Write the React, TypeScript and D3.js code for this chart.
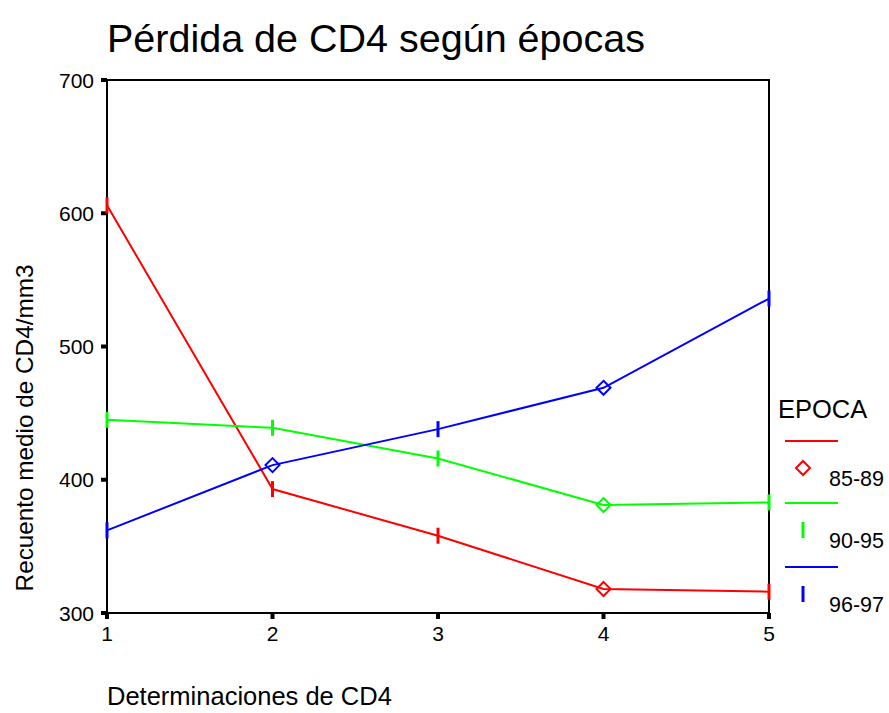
import React from "react";
import * as d3 from "d3";

const determinations = [1, 2, 3, 4, 5];
const epocas = ["85-89", "90-95", "96-97"];
const colors = ["#ff0000", "#00ff00", "#0000ff"];
const values8589 = [606, 393, 358, 318, 316];
const values9095 = [445, 439, 416, 381, 383];
const values9697 = [362, 411, 438, 469, 536];
const markers8589 = ["tick", "tick", "tick", "diamond", "tick"];
const markers9095 = ["tick", "tick", "tick", "diamond", "tick"];
const markers9697 = ["tick", "diamond", "tick", "diamond", "tick"];
const legendMarkers = ["diamond", "tick", "tick"];
const yTicks = [300, 400, 500, 600, 700];
const xTicks = [1, 2, 3, 4, 5];

const FONT = "'Liberation Sans', Arial, sans-serif";

function Marker({ type, x, y, color, size = 7, tickLen = 8 }: any) {
  if (type === "diamond") {
    const p = `M${x},${y - size}L${x + size},${y}L${x},${y + size}L${x - size},${y}Z`;
    return <path d={p} fill="none" stroke={color} strokeWidth={2} />;
  }
  return <line x1={x} x2={x} y1={y - tickLen} y2={y + tickLen} stroke={color} strokeWidth={3} />;
}

export default function App() {
  const x = d3.scaleLinear().domain([1, 5]).range([107, 769]);
  const y = d3.scaleLinear().domain([300, 700]).range([613, 80]);
  const series = [
    { name: epocas[0], values: values8589, markers: markers8589, color: colors[0] },
    { name: epocas[1], values: values9095, markers: markers9095, color: colors[1] },
    { name: epocas[2], values: values9697, markers: markers9697, color: colors[2] },
  ];
  const line = d3
    .line<number>()
    .x((_, i) => x(determinations[i]))
    .y((d) => y(d));

  const legendY = [441, 503, 567];

  return (
    <svg
      width={889}
      height={713}
      style={{ position: "absolute", left: 0, top: 0, background: "#fff" }}
      fontFamily={FONT}
    >
      <rect x={0} y={0} width={889} height={713} fill="#fff" />
      <text x={107} y={52} fontSize={39.5} fill="#000">
        Pérdida de CD4 según épocas
      </text>

      {/* frame */}
      <rect x={107} y={80} width={662} height={533} fill="none" stroke="#000" strokeWidth={2} />

      {/* y ticks */}
      {yTicks.map((t) => (
        <g key={"y" + t}>
          <line x1={101} x2={107} y1={y(t)} y2={y(t)} stroke="#000" strokeWidth={4} />
          <text x={94} y={y(t) + 7.5} fontSize={21} textAnchor="end" fill="#000">
            {t}
          </text>
        </g>
      ))}
      {/* x ticks */}
      {xTicks.map((t) => (
        <g key={"x" + t}>
          <line x1={x(t)} x2={x(t)} y1={613} y2={619} stroke="#000" strokeWidth={4} />
          <text x={x(t)} y={641} fontSize={21} textAnchor="middle" fill="#000">
            {t}
          </text>
        </g>
      ))}

      {/* series */}
      {series.map((s) => (
        <g key={s.name}>
          <path d={line(s.values) || ""} fill="none" stroke={s.color} strokeWidth={2} />
          {s.values.map((v, i) => (
            <Marker key={i} type={s.markers[i]} x={x(determinations[i])} y={y(v)} color={s.color} />
          ))}
        </g>
      ))}

      {/* axis titles */}
      <text
        transform="translate(33,428) rotate(-90)"
        fontSize={24.3}
        textAnchor="middle"
        fill="#000"
      >
        Recuento medio de CD4/mm3
      </text>
      <text x={107} y={705} fontSize={25.5} fill="#000">
        Determinaciones de CD4
      </text>

      {/* legend */}
      <text x={778} y={418} fontSize={25.5} fill="#000">
        EPOCA
      </text>
      {epocas.map((e, i) => (
        <g key={"leg" + e}>
          <line x1={785} x2={838} y1={legendY[i]} y2={legendY[i]} stroke={colors[i]} strokeWidth={2} />
          <Marker type={legendMarkers[i]} x={803} y={legendY[i] + 27} color={colors[i]} />
          <text x={829} y={legendY[i] + 45} fontSize={21.5} fill="#000">
            {e}
          </text>
        </g>
      ))}
    </svg>
  );
}
